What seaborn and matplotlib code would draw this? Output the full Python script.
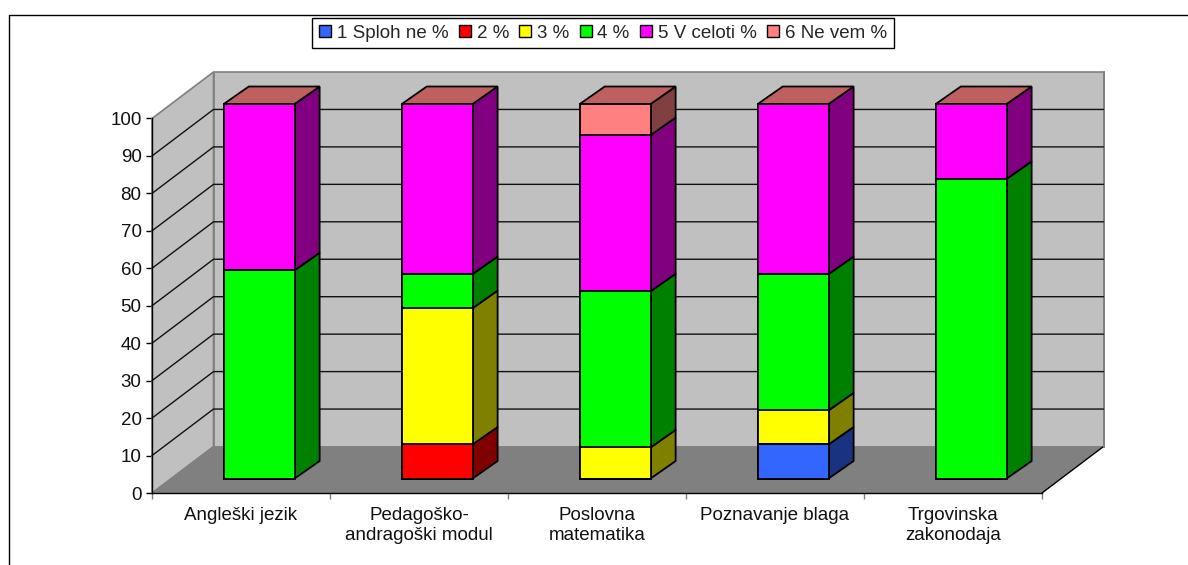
import numpy as np
import pandas as pd
import seaborn as sns
import matplotlib
matplotlib.use("Agg")
import matplotlib.pyplot as plt
from matplotlib.patches import Polygon, Patch
from matplotlib.lines import Line2D
from matplotlib.transforms import Affine2D

categories = ["Angleški jezik", "Pedagoško-\nandragoški modul", "Poslovna\nmatematika",
              "Poznavanje blaga", "Trgovinska\nzakonodaja"]
series_names = ["1 Sploh ne %", "2 %", "3 %", "4 %", "5 V celoti %", "6 Ne vem %"]
s1 = [0, 0, 0, 9.1, 0]
s2 = [0, 9.1, 0, 0, 0]
s3 = [0, 36.4, 8.3, 9.1, 0]
s4 = [55.6, 9.1, 41.7, 36.4, 80]
s5 = [44.4, 45.4, 41.7, 45.4, 20]
s6 = [0, 0, 8.3, 0, 0]
series_values = [s1, s2, s3, s4, s5, s6]
colors = ["#3366FF", "#FF0000", "#FFFF00", "#00FF00", "#FF00FF", "#FF8080"]
y_ticks = list(range(0, 101, 10))

W, H = 1188, 565
sns.set_style("white")
plt.rcParams["font.family"] = ["Liberation Sans", "DejaVu Sans"]
fig = plt.figure(figsize=(W / 100, H / 100), dpi=100, facecolor="white")

L, R, B, T = 152, 1042, 493, 118.5
ax = fig.add_axes([L / W, 1 - B / H, (R - L) / W, (B - T) / H])
ax.patch.set_alpha(0)

pxx = 5 / (R - L)
pxy = 100 / (B - T)
wall_dx, wall_dy = 61.5 * pxx, 46.5 * pxy
bar_dx, bar_dy = 18.2 * pxx, 14.5 * pxy
dep_dx, dep_dy = 25.0 * pxx, 17.5 * pxy
bar_w = 0.398
x0, x1 = -0.5, 4.5


def darker(c, f):
    return tuple(np.array(matplotlib.colors.to_rgb(c)) * f)


ax.add_patch(Polygon([(x0 + wall_dx, wall_dy), (x1 + wall_dx, wall_dy), (x1 + wall_dx, 100 + wall_dy),
                      (x0 + wall_dx, 100 + wall_dy)], fc="#C0C0C0", ec="#808080", lw=1.2,
                     clip_on=False, zorder=1))
ax.add_patch(Polygon([(x0, 0), (x0 + wall_dx, wall_dy), (x0 + wall_dx, 100 + wall_dy), (x0, 100)],
                     fc="#C0C0C0", ec="#808080", lw=1.2, clip_on=False, zorder=1))
ax.add_patch(Polygon([(x0, 0), (x1, 0), (x1 + wall_dx, wall_dy), (x0 + wall_dx, wall_dy)],
                     fc="#808080", ec="none", clip_on=False, zorder=1.5))
ax.plot([x1, x1 + wall_dx], [0, wall_dy], color="black", lw=1, clip_on=False, zorder=1.6)
ax.plot([x1 + wall_dx] * 2, [wall_dy, 100 + wall_dy], color="#808080", lw=1.4, clip_on=False, zorder=1.6)
for v in y_ticks[1:-1]:
    ax.plot([x0, x0 + wall_dx, x1 + wall_dx], [v, v + wall_dy, v + wall_dy],
            color="#111111", lw=1, clip_on=False, zorder=2, solid_joinstyle="miter")

vals = np.array(series_values, dtype=float)
cum = vals.cumsum(axis=0)
shift = Affine2D().translate(bar_dx, bar_dy) + ax.transData
for i in range(len(series_names) - 1, -1, -1):
    df = pd.DataFrame({"cat": categories, "top": cum[i]})
    sns.barplot(data=df, x="cat", y="top", color=colors[i], saturation=1, width=bar_w,
                edgecolor="black", linewidth=1.3, ax=ax, order=categories, errorbar=None, zorder=4)
for p in ax.patches:
    if isinstance(p, matplotlib.patches.Rectangle):
        p.set_transform(shift)
        p.set_clip_on(False)
        p.set_zorder(4)

for j in range(len(categories)):
    xr = j + bar_w / 2 + bar_dx
    xl = j - bar_w / 2 + bar_dx
    base = 0.0
    for i in range(len(series_names)):
        h = vals[i, j]
        if h > 0:
            t = base + h
            ax.add_patch(Polygon([(xr, base + bar_dy), (xr + dep_dx, base + bar_dy + dep_dy),
                                  (xr + dep_dx, t + bar_dy + dep_dy), (xr, t + bar_dy)],
                                 fc=darker(colors[i], 0.5), ec="black", lw=1.3, clip_on=False, zorder=3.5))
            base = t
    ax.add_patch(Polygon([(xl, base + bar_dy), (xr, base + bar_dy), (xr + dep_dx, base + bar_dy + dep_dy),
                          (xl + dep_dx, base + bar_dy + dep_dy)],
                         fc=darker(colors[-1], 0.75), ec="black", lw=1.3, clip_on=False, zorder=3.5))

ax.set_xlim(x0, x1)
ax.set_ylim(0, 100)
ax.set_xlabel("")
ax.set_ylabel("")
for s in ["top", "right"]:
    ax.spines[s].set_visible(False)
for s in ["left", "bottom"]:
    ax.spines[s].set_visible(True)
    ax.spines[s].set_color("black")
    ax.spines[s].set_linewidth(1)
    ax.spines[s].set_zorder(3)
ax.set_yticks(y_ticks)
ax.set_yticklabels([str(v) for v in y_ticks])
ax.set_xticks(np.arange(x0, x1 + 1))
ax.set_xticklabels([""] * 6)
ax.set_xticks(np.arange(5), minor=True)
ax.set_xticklabels(categories, minor=True, linespacing=1.25, ha="center")
ax.tick_params(axis="y", which="major", left=True, length=4.5, width=1, color="black",
               labelsize=13.5, pad=3, labelcolor="#111111")
ax.tick_params(axis="x", which="major", bottom=True, length=4.5, width=1, color="#808080")
ax.tick_params(axis="x", which="minor", bottom=False, length=0, labelsize=13.5, pad=10, labelcolor="#111111")

handles = [Patch(fc=c, ec="black", lw=1) for c in colors]
leg = fig.legend(handles, series_names, ncol=6, loc="center", bbox_to_anchor=(603 / W, 1 - 33 / H),
                 frameon=True, fancybox=False, edgecolor="black", framealpha=1, fontsize=13.5,
                 handlelength=0.65, handleheight=0.65, handletextpad=0.3, columnspacing=0.55,
                 borderpad=0.35, borderaxespad=0)
leg.get_frame().set_linewidth(1)

fig.add_artist(Line2D([8.5 / W, 8.5 / W, 1], [0, 1 - 14.5 / H, 1 - 14.5 / H], color="black", lw=1,
                      transform=fig.transFigure))

fig.savefig("out.png", dpi=100)
